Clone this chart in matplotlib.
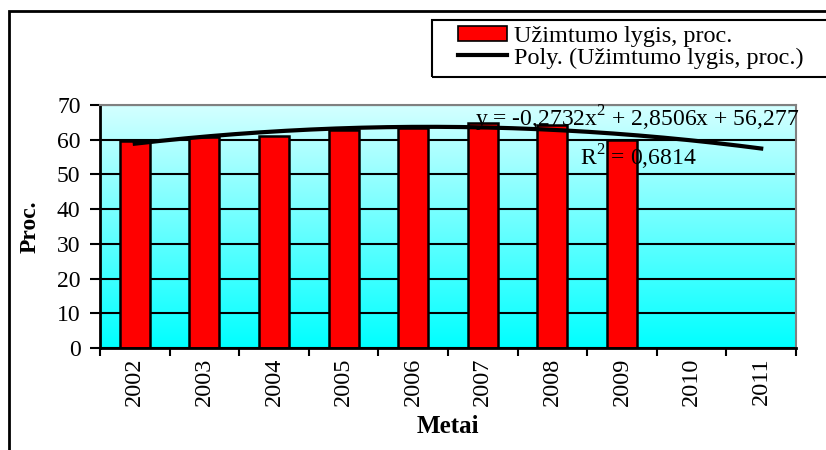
import numpy as np
import matplotlib
matplotlib.use("Agg")
import matplotlib.pyplot as plt
from matplotlib.patches import Rectangle, Patch
from matplotlib.lines import Line2D

# values
years = ["2002", "2003", "2004", "2005", "2006", "2007", "2008", "2009", "2010", "2011"]
employment = [59.5, 60.8, 61.0, 62.7, 63.4, 64.8, 64.3, 60.0]
# 2nd-order trend coefficients as printed on the chart (Excel polynomial trendline)
trend_coefs = [-0.2732, 2.8506, 56.277]
r_squared = "0,6814"

bar_label = "Užimtumo lygis, proc."
trend_label = "Poly. (Užimtumo lygis, proc.)"

plt.rcParams["font.family"] = ["Liberation Serif", "DejaVu Serif"]
plt.rcParams["mathtext.fontset"] = "custom"
plt.rcParams["mathtext.rm"] = "Liberation Serif"

W, H = 826, 450
fig = plt.figure(figsize=(W / 100, H / 100), dpi=100)
ax = fig.add_axes([100 / W, 1 - 348 / H, 696 / W, 243 / H])

# background gradient: pale cyan at top -> cyan at bottom
grad = np.linspace(0, 1, 256).reshape(-1, 1)
cmap = matplotlib.colors.LinearSegmentedColormap.from_list("cy", ["#00ffff", "#d4ffff"])
ax.imshow(grad, cmap=cmap, aspect="auto", extent=[0, 1, 0, 1],
          transform=ax.transAxes, origin="lower", zorder=0)

x = np.arange(len(employment))
ax.bar(x, employment, width=0.43, color="#ff0000", edgecolor="black", linewidth=1.8, zorder=2)

# trendline over all year slots (x = 1..10 in Excel's numbering)
xt = np.linspace(1, len(years), 200)
yt = np.polyval(trend_coefs, xt)
ax.plot(xt - 1, yt, color="black", linewidth=3, zorder=3)

ax.set_xlim(-0.5, len(years) - 0.5)
ax.set_ylim(0, 70)
ax.set_yticks(range(0, 71, 10))
ax.grid(axis="y", color="black", linewidth=1.5, zorder=1)
ax.set_axisbelow(True)

ax.set_xticks(np.arange(-0.5, len(years)), labels=[])
ax.set_xticks(np.arange(len(years)), labels=years, minor=True)
ax.tick_params(axis="x", which="minor", length=0, rotation=90, labelsize=17.5, pad=7)
ax.tick_params(axis="x", which="major", length=6, width=1.5, direction="out")
ax.tick_params(axis="y", length=7, width=1.5, labelsize=17, pad=7)

for s in ["left", "bottom"]:
    ax.spines[s].set_color("black")
    ax.spines[s].set_linewidth(2)
for s in ["top", "right"]:
    ax.spines[s].set_color("#808080")
    ax.spines[s].set_linewidth(1.5)

ax.set_ylabel("Proc.", fontsize=17, fontweight="bold", labelpad=12)
ax.set_xlabel("Metai", fontsize=18, fontweight="bold", labelpad=6)

ax.text((475 - 100) / 696, (348 - 127) / 243,
        "y = -0,2732x$^{\\mathrm{2}}$ + 2,8506x + 56,277",
        transform=ax.transAxes, fontsize=17, va="baseline", ha="left", zorder=4)
ax.text((580 - 100) / 696, (348 - 166) / 243,
        "R$^{\\mathrm{2}}$ = " + r_squared,
        transform=ax.transAxes, fontsize=17, va="baseline", ha="left", zorder=4)

# legend box (extends past the right edge as in the source)
fig.patches.append(Rectangle((432 / W, 1 - 77 / H), 0.6, 57 / H, transform=fig.transFigure,
                             fill=False, edgecolor="black", linewidth=1.5))
handles = [Patch(facecolor="#ff0000", edgecolor="black", linewidth=1.2),
           Line2D([0], [0], color="black", linewidth=3)]
fig.legend(handles, [bar_label, trend_label], loc="upper left",
           bbox_to_anchor=(458 / W, 1 - 26 / H), frameon=False, fontsize=17.5,
           borderaxespad=0, borderpad=0, labelspacing=0.0, handlelength=2.0,
           handleheight=0.6, handletextpad=0.3)

# outer chart border
fig.patches.append(Rectangle((9 / W, -0.1), 1.0, 1.1 - 11 / H, transform=fig.transFigure,
                             fill=False, edgecolor="black", linewidth=2))

fig.savefig("out.png", dpi=100)
